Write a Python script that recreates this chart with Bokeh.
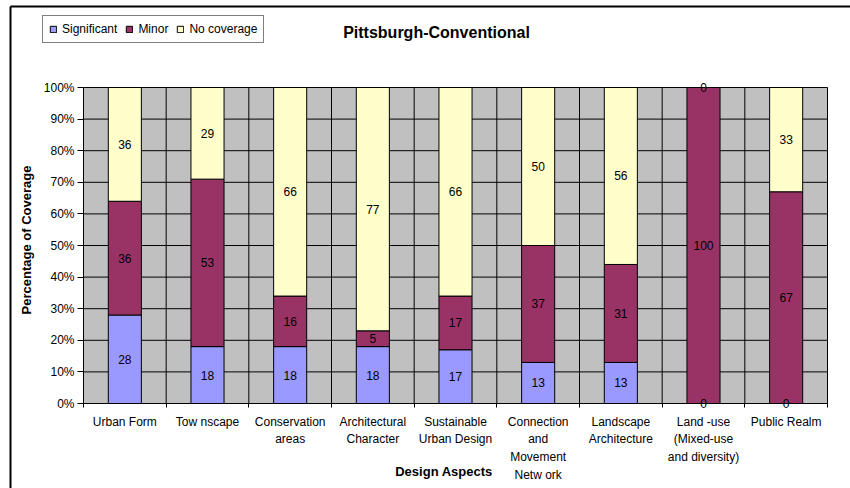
from bokeh.plotting import figure
from bokeh.models import (ColumnDataSource, Range1d, FixedTicker, PrintfTickFormatter,
                          Label, Legend, LegendItem)
from bokeh.core.properties import value
from bokeh.embed import file_html
from bokeh.resources import INLINE

# ---- data -------------------------------------------------------------
categories = [
    "Urban Form",
    "Tow nscape",
    "Conservation\nareas",
    "Architectural\nCharacter",
    "Sustainable\nUrban Design",
    "Connection\nand\nMovement\nNetw ork",
    "Landscape\nArchitecture",
    "Land -use\n(Mixed-use\nand diversity)",
    "Public Realm",
]
significant = [28, 18, 18, 18, 17, 13, 13, 0, 0]
minor = [36, 53, 16, 5, 17, 37, 31, 100, 67]
no_coverage = [36, 29, 66, 77, 66, 50, 56, 0, 33]
series_names = ["Significant", "Minor", "No coverage"]
series_colors = ["#9999FF", "#993366", "#FFFFCC"]
y_ticks = [0, 10, 20, 30, 40, 50, 60, 70, 80, 90, 100]

# ---- layout (canvas pixels) ------------------------------------------
W, H = 850, 488
PL, PR, PT, PB = 83, 827, 87, 403      # plot-area box on the canvas
N = len(categories)
YMAX = 100


def dx(px):
    return (px - PL) / (PR - PL) * N


def dy(py):
    return (PB - py) / (PB - PT) * YMAX


FONT = "Liberation Sans"

centers = [i + 0.5 for i in range(N)]
src = ColumnDataSource(dict(x=centers, **{
    "Significant": significant, "Minor": minor, "No coverage": no_coverage}))

# the frame covers the whole canvas; ranges are set so that the category
# span 0..N and the 0..100 % span land on the plot-area box
p = figure(width=W, height=H, output_backend="svg", toolbar_location=None,
           x_range=Range1d(dx(0), dx(W)), y_range=Range1d(dy(H), dy(0)),
           min_border=0)
p.min_border_left = p.min_border_right = p.min_border_top = p.min_border_bottom = 0
p.background_fill_color = "white"
p.border_fill_color = "white"
p.outline_line_color = None
p.xgrid.visible = False
p.ygrid.visible = False

# chart-area frame (its right and bottom sides run past the canvas)
p.segment(x0=[dx(10), dx(10)], y0=[dy(6), dy(6)], x1=[dx(W + 20), dx(10)], y1=[dy(6), dy(H + 20)],
          line_color="black", line_width=2)

# plot-area background
p.quad(left=[0], right=[N], bottom=[0], top=[YMAX], fill_color="#C0C0C0", line_color=None)

# gridlines
p.segment(x0=[0] * len(y_ticks), x1=[N] * len(y_ticks), y0=y_ticks, y1=y_ticks,
          line_color="black", line_width=1)
p.segment(x0=list(range(1, N + 1)), x1=list(range(1, N + 1)), y0=[0] * N, y1=[YMAX] * N,
          line_color="black", line_width=1)

renderers = p.vbar_stack(series_names, x="x", width=0.4, source=src,
                         fill_color=series_colors, line_color="black", line_width=1)

# axes pinned to the plot-area edges
p.xaxis.fixed_location = 0
p.xaxis.bounds = (0, N)
p.xaxis.ticker = FixedTicker(ticks=list(range(N + 1)))
p.xaxis.major_label_text_color = None
p.xaxis.major_tick_out = 4
p.xaxis.major_tick_in = 0
p.xaxis.minor_tick_line_color = None
p.xaxis.axis_line_color = "black"
p.xaxis.major_tick_line_color = "black"

p.yaxis.fixed_location = 0
p.yaxis.bounds = (0, YMAX)
p.yaxis.ticker = FixedTicker(ticks=y_ticks)
p.yaxis.formatter = PrintfTickFormatter(format="%d%%")
p.yaxis.major_tick_out = 6
p.yaxis.major_tick_in = 0
p.yaxis.minor_tick_line_color = None
p.yaxis.major_label_standoff = 3
p.yaxis.major_label_text_font = FONT
p.yaxis.major_label_text_font_size = "12px"
p.yaxis.major_label_text_color = "black"
p.yaxis.axis_line_color = "black"
p.yaxis.major_tick_line_color = "black"

# value labels, centred in each segment
lx, ly, lt = [], [], []
for i in range(N):
    base = 0
    for vals in (significant, minor, no_coverage):
        v = vals[i]
        lx.append(centers[i])
        ly.append(base + v / 2)
        lt.append(str(v))
        base += v
p.text(x=lx, y=ly, text=lt, text_align="center", text_baseline="middle",
       text_font=value(FONT), text_font_size="12px", text_color="black")

# category labels under the axis, one line per row
LINE_PX = [421, 438.7, 456.4, 474]
cx, cy, ct = [], [], []
for i, cat in enumerate(categories):
    for j, line in enumerate(cat.split("\n")):
        cx.append(centers[i])
        cy.append(dy(LINE_PX[j]))
        ct.append(line)
p.text(x=cx, y=cy, text=ct, text_align="center", text_baseline="middle",
       text_font=value(FONT), text_font_size="12px", text_color="black")

# titles
p.add_layout(Label(x=dx(436), y=dy(32), text="Pittsburgh-Conventional",
                   text_align="center", text_baseline="middle", text_font=FONT,
                   text_font_size="16px", text_font_style="bold", text_color="black"))
p.add_layout(Label(x=dx(443.5), y=dy(470.5), text="Design Aspects",
                   text_align="center", text_baseline="middle", text_font=FONT,
                   text_font_size="13px", text_font_style="bold", text_color="black"))
p.add_layout(Label(x=dx(26), y=dy(239.5), text="Percentage of Coverage",
                   angle=90, angle_units="deg",
                   text_align="center", text_baseline="middle", text_font=FONT,
                   text_font_size="13px", text_font_style="bold", text_color="black"))

# legend
legend = Legend(items=[LegendItem(label=n, renderers=[r]) for n, r in zip(series_names, renderers)],
                orientation="horizontal", location=(42, H - 43), margin=0,
                padding=6, spacing=8, label_standoff=5,
                glyph_width=8, glyph_height=8, label_height=12,
                label_text_font=FONT, label_text_font_size="12px",
                label_text_color="black", border_line_color="black",
                border_line_width=1, background_fill_color="white",
                background_fill_alpha=1)
p.add_layout(legend, "center")

open("out.html", "w").write(file_html(p, INLINE))
